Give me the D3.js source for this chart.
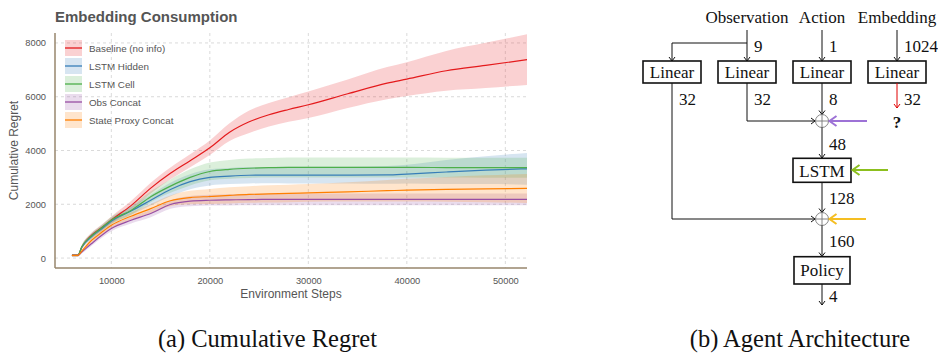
<!DOCTYPE html>
<html>
<head>
<meta charset="utf-8">
<script src="https://cdn.jsdelivr.net/npm/d3@7"></script>
<style>
  body { margin: 0; background: #fff; }
  svg { display: block; }
</style>
</head>
<body>
<svg id="fig" width="938" height="354"></svg>
<script>
// ---- chart data ----
const steps = [6000, 6600, 7000, 8000, 9000, 10000, 12000, 14000, 16000, 18000, 20000, 22000, 24000, 26000, 28000, 30000, 34000, 38000, 40000, 44000, 48000, 52200];

const baselineMean = [100, 100, 410, 850, 1130, 1420, 1950, 2600, 3150, 3620, 4100, 4680, 5070, 5330, 5525, 5700, 6110, 6505, 6655, 6965, 7165, 7380];
const baselineSpread = [40, 40, 70, 100, 110, 130, 170, 200, 220, 240, 270, 330, 420, 440, 460, 495, 530, 600, 630, 740, 840, 940];

const hiddenMean = [100, 100, 400, 800, 1080, 1370, 1750, 2150, 2550, 2840, 3000, 3050, 3080, 3085, 3085, 3085, 3085, 3090, 3120, 3200, 3270, 3320];
const hiddenSpread = [40, 40, 70, 100, 110, 120, 150, 200, 250, 280, 300, 300, 305, 305, 310, 310, 310, 330, 350, 450, 520, 590];

const cellMean = [100, 100, 420, 830, 1120, 1410, 1770, 2280, 2675, 3000, 3220, 3300, 3340, 3360, 3370, 3370, 3370, 3370, 3370, 3365, 3360, 3360];
const cellSpread = [40, 40, 70, 100, 110, 130, 160, 200, 250, 300, 330, 350, 360, 365, 370, 370, 370, 370, 370, 370, 370, 370];

const obsMean = [100, 100, 225, 540, 840, 1100, 1405, 1655, 1990, 2115, 2150, 2165, 2175, 2180, 2180, 2180, 2180, 2180, 2180, 2180, 2180, 2180];
const obsSpread = [40, 40, 60, 80, 90, 100, 120, 140, 160, 190, 200, 210, 215, 220, 220, 220, 220, 220, 220, 220, 220, 220];

const proxyMean = [100, 100, 260, 660, 950, 1220, 1555, 1840, 2130, 2250, 2290, 2330, 2365, 2385, 2405, 2425, 2460, 2505, 2525, 2555, 2575, 2590];
const proxySpread = [40, 40, 60, 90, 100, 110, 140, 170, 200, 250, 280, 300, 310, 320, 325, 330, 360, 400, 420, 460, 500, 540];

const seriesNames = ["Baseline (no info)", "LSTM Hidden", "LSTM Cell", "Obs Concat", "State Proxy Concat"];
const seriesColors = ["#e41a1c", "#377eb8", "#4daf4a", "#984ea3", "#ff7f00"];
const seriesMeans = [baselineMean, hiddenMean, cellMean, obsMean, proxyMean];
const seriesSpreads = [baselineSpread, hiddenSpread, cellSpread, obsSpread, proxySpread];

const xTicks = [10000, 20000, 30000, 40000, 50000];
const yTicks = [0, 2000, 4000, 6000, 8000];

// ---- diagram data ----
const inputNames = ["Observation", "Action", "Embedding"];
const inputDims = ["9", "1", "1024"];
const linearDims = ["32", "32", "8", "32"];
const mergeDims = ["48", "128", "160", "4"];

const svg = d3.select("#fig");

// ================= (a) line chart =================
const plot = { left: 55, right: 527, top: 33, bottom: 268 };

const x = d3.scaleLinear().domain([4280, 52200]).range([plot.left, plot.right]);
const y = d3.scaleLinear().domain([-370, 8370]).range([plot.bottom, plot.top]);

const sans = "'Liberation Sans', Arial, sans-serif";
const serif = "'Liberation Serif', 'Times New Roman', serif";

// grid lines
const grid = svg.append("g").attr("stroke", "#d0d0d0").attr("stroke-dasharray", "3,3").attr("stroke-width", 0.8);
grid.selectAll(".gx").data(xTicks).enter().append("line")
  .attr("x1", (d) => x(d)).attr("x2", (d) => x(d))
  .attr("y1", plot.top).attr("y2", plot.bottom);
grid.selectAll(".gy").data(yTicks).enter().append("line")
  .attr("x1", plot.left).attr("x2", plot.right)
  .attr("y1", (d) => y(d)).attr("y2", (d) => y(d));

// bands then lines
const area = d3.area()
  .x((d, i) => x(steps[i]))
  .y0((d) => y(d[0]))
  .y1((d) => y(d[1]))
  .curve(d3.curveMonotoneX);
const line = d3.line()
  .x((d, i) => x(steps[i]))
  .y((d) => y(d))
  .curve(d3.curveMonotoneX);

seriesMeans.forEach((m, s) => {
  const band = m.map((v, i) => [v - seriesSpreads[s][i], v + seriesSpreads[s][i]]);
  svg.append("path").datum(band)
    .attr("d", area)
    .attr("fill", seriesColors[s])
    .attr("fill-opacity", 0.2);
});
seriesMeans.forEach((m, s) => {
  svg.append("path").datum(m)
    .attr("d", line)
    .attr("fill", "none")
    .attr("stroke", seriesColors[s])
    .attr("stroke-width", 1.2);
});

// axes (labels only, no tick marks)
const xAxis = svg.append("g")
  .attr("transform", `translate(0,${plot.bottom})`)
  .call(d3.axisBottom(x).tickValues(xTicks).tickSize(0).tickPadding(9).tickFormat(d3.format("d")));
const yAxis = svg.append("g")
  .attr("transform", `translate(${plot.left},0)`)
  .call(d3.axisLeft(y).tickValues(yTicks).tickSize(0).tickPadding(9).tickFormat(d3.format("d")));
[xAxis, yAxis].forEach((a) => {
  a.select(".domain").remove();
  a.selectAll("text").attr("fill", "#555").style("font-family", sans).style("font-size", "9.3px");
});

// spines
svg.append("line").attr("x1", plot.left).attr("x2", plot.left).attr("y1", plot.top).attr("y2", plot.bottom)
  .attr("stroke", "#97866c").attr("stroke-width", 1.5);
svg.append("line").attr("x1", plot.left).attr("x2", plot.right).attr("y1", plot.bottom).attr("y2", plot.bottom)
  .attr("stroke", "#97866c").attr("stroke-width", 1.5);

// titles
svg.append("text").attr("x", 55).attr("y", 22)
  .style("font-family", sans).style("font-size", "15px").style("font-weight", "bold")
  .attr("fill", "#555").text("Embedding Consumption");
svg.append("text").attr("x", (plot.left + plot.right) / 2).attr("y", 298)
  .attr("text-anchor", "middle").style("font-family", sans).style("font-size", "12px")
  .attr("fill", "#555").text("Environment Steps");
svg.append("text").attr("transform", `translate(18,${(plot.top + plot.bottom) / 2}) rotate(-90)`)
  .attr("text-anchor", "middle").style("font-family", sans).style("font-size", "12px")
  .attr("fill", "#555").text("Cumulative Regret");

// legend
const legend = svg.append("g").attr("transform", "translate(65,40)");
seriesNames.forEach((name, i) => {
  const g = legend.append("g").attr("transform", `translate(0,${i * 18})`);
  g.append("rect").attr("width", 17).attr("height", 16)
    .attr("fill", seriesColors[i]).attr("fill-opacity", 0.2);
  g.append("line").attr("x1", 0).attr("x2", 17).attr("y1", 8).attr("y2", 8)
    .attr("stroke", seriesColors[i]).attr("stroke-width", 1.3);
  g.append("text").attr("x", 24).attr("y", 11.8)
    .style("font-family", sans).style("font-size", "9.8px").attr("fill", "#555").text(name);
});

// caption
svg.append("text").attr("x", 267.5).attr("y", 346.5).attr("text-anchor", "middle")
  .style("font-family", serif).style("font-size", "24.5px").attr("fill", "#111")
  .text("(a) Cumulative Regret");

// ================= (b) architecture diagram =================
const dg = svg.append("g");
const cols = [672, 747, 822, 897];
const serifText = (sel) => sel.style("font-family", serif).style("font-size", "17px").attr("fill", "#111");

function arrow(points, color, width, head) {
  dg.append("path").attr("d", d3.line()(points))
    .attr("fill", "none").attr("stroke", color).attr("stroke-width", width);
  const [x1, y1] = points[points.length - 2];
  const [x2, y2] = points[points.length - 1];
  const ang = Math.atan2(y2 - y1, x2 - x1);
  const l = head[0], w = head[1];
  const p1 = [x2 - l * Math.cos(ang) + w * Math.sin(ang), y2 - l * Math.sin(ang) - w * Math.cos(ang)];
  const p2 = [x2 - l * Math.cos(ang) - w * Math.sin(ang), y2 - l * Math.sin(ang) + w * Math.cos(ang)];
  dg.append("path").attr("d", d3.line()([p1, [x2, y2], p2]))
    .attr("fill", "none").attr("stroke", color).attr("stroke-width", width)
    .attr("stroke-linejoin", "miter");
}

function box(cx, top, w, h, label, base) {
  dg.append("rect").attr("x", cx - w / 2).attr("y", top).attr("width", w).attr("height", h)
    .attr("fill", "#fff").attr("stroke", "#111").attr("stroke-width", 1.6);
  dg.append("text").attr("x", cx).attr("y", base).attr("text-anchor", "middle").call(serifText).text(label);
}

function plus(cx, cy) {
  const r = 6.5;
  dg.append("circle").attr("cx", cx).attr("cy", cy).attr("r", r)
    .attr("fill", "none").attr("stroke", "#777").attr("stroke-width", 0.9);
  dg.append("line").attr("x1", cx - r).attr("x2", cx + r).attr("y1", cy).attr("y2", cy).attr("stroke", "#777").attr("stroke-width", 0.9);
  dg.append("line").attr("x1", cx).attr("x2", cx).attr("y1", cy - r).attr("y2", cy + r).attr("stroke", "#777").attr("stroke-width", 0.9);
}

function label(xp, yp, t, anchor) {
  dg.append("text").attr("x", xp).attr("y", yp).attr("text-anchor", anchor || "start").call(serifText).text(t);
}

const small = [4, 3];
const big = [7, 5];

// inputs
[cols[1], cols[2], cols[3]].forEach((cx, i) => {
  label(cx, 22.5, inputNames[i], "middle");
  arrow([[cx, 30], [cx, 61]], "#111", 1, small);
  label(cx + 7, 52, inputDims[i]);
});
arrow([[cols[1], 43], [cols[0], 43], [cols[0], 61]], "#111", 1, small);

// linear layers
cols.forEach((cx) => box(cx, 61, 58, 22, "Linear", 78));
cols.forEach((cx, i) => label(cx + 7, 105, linearDims[i]));

// merges
const m1 = 121, m2 = 219;
arrow([[cols[0], 83], [cols[0], m2], [cols[2] - 7, m2]], "#111", 1, small);
arrow([[cols[1], 83], [cols[1], m1], [cols[2] - 7, m1]], "#111", 1, small);
arrow([[cols[2], 83], [cols[2], m1 - 6.5]], "#111", 1, small);
arrow([[cols[3], 83], [cols[3], 108]], "#e00000", 1, small);
dg.append("text").attr("x", cols[3]).attr("y", 128).attr("text-anchor", "middle")
  .call(serifText).style("font-weight", "bold").text("?");
plus(cols[2], m1);
arrow([[867, m1], [cols[2] + 7.5, m1]], "#9d72d6", 2, big);

arrow([[cols[2], m1 + 6.5], [cols[2], 158]], "#111", 1, small);
label(cols[2] + 7, 150, mergeDims[0]);
box(cols[2], 158.3, 58, 24, "LSTM", 177);
arrow([[888, 170], [cols[2] + 30.5, 170]], "#8cbf1e", 2, big);

arrow([[cols[2], 182.3], [cols[2], m2 - 6.5]], "#111", 1, small);
label(cols[2] + 7, 204, mergeDims[1]);
plus(cols[2], m2);
arrow([[866, m2], [cols[2] + 7.5, m2]], "#f5be22", 2, big);

arrow([[cols[2], m2 + 6.5], [cols[2], 256.5]], "#111", 1, small);
label(cols[2] + 7, 246.5, mergeDims[2]);
box(cols[2], 256.7, 56, 27.3, "Policy", 276);
arrow([[cols[2], 284], [cols[2], 305]], "#111", 1, small);
label(cols[2] + 7, 302, mergeDims[3]);

// caption
svg.append("text").attr("x", 800).attr("y", 346.5).attr("text-anchor", "middle")
  .style("font-family", serif).style("font-size", "24.5px").attr("fill", "#111")
  .text("(b) Agent Architecture");
</script>
</body>
</html>
